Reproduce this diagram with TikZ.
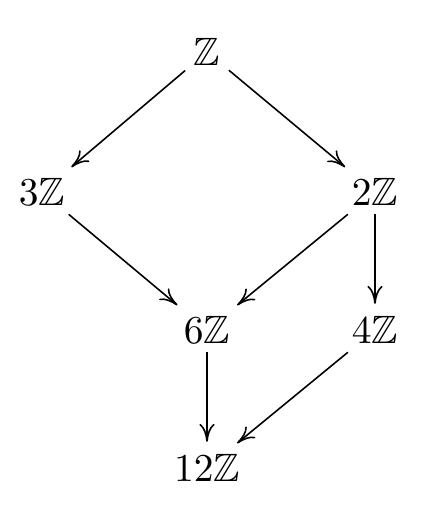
\documentclass[tikz,border=0pt]{standalone}
\usepackage{amsmath, amssymb}
\usepackage{tikz}
\usetikzlibrary{positioning,arrows.meta}
\begin{document}
\begin{tikzpicture}[x=0.00889cm, y=-0.00889cm]
\tikzstyle{grp}=[inner sep=2pt]
\tikzstyle{connect}=[-{To[length=4.5pt,width=3.8pt]}, line width=0.4pt, shorten >=1pt]

	\useasboundingbox (0,0) rectangle (444,506);

	\node[grp] (Z) at (207,52) {$\mathbb{Z}$};

	\node[grp] (Z3) at (42,192) {$3\mathbb{Z}$};
	\node[grp] (Z2) at (375,192) {$2\mathbb{Z}$};

	\node[grp] (Z6) at (207,330) {$6\mathbb{Z}$};
	\node[grp] (Z4) at (375,330) {$4\mathbb{Z}$};

	\node[grp] (Z12) at (207,468) {$12\mathbb{Z}$};

	\path
		(Z) edge [connect] (Z3)
		(Z) edge [connect] (Z2)
		(Z3) edge [connect] (Z6)
		(Z2) edge [connect] (Z6)
		(Z2) edge [connect] (Z4)
		(Z6) edge [connect] (Z12)
		(Z4) edge [connect] (Z12);

\end{tikzpicture}
\end{document}
